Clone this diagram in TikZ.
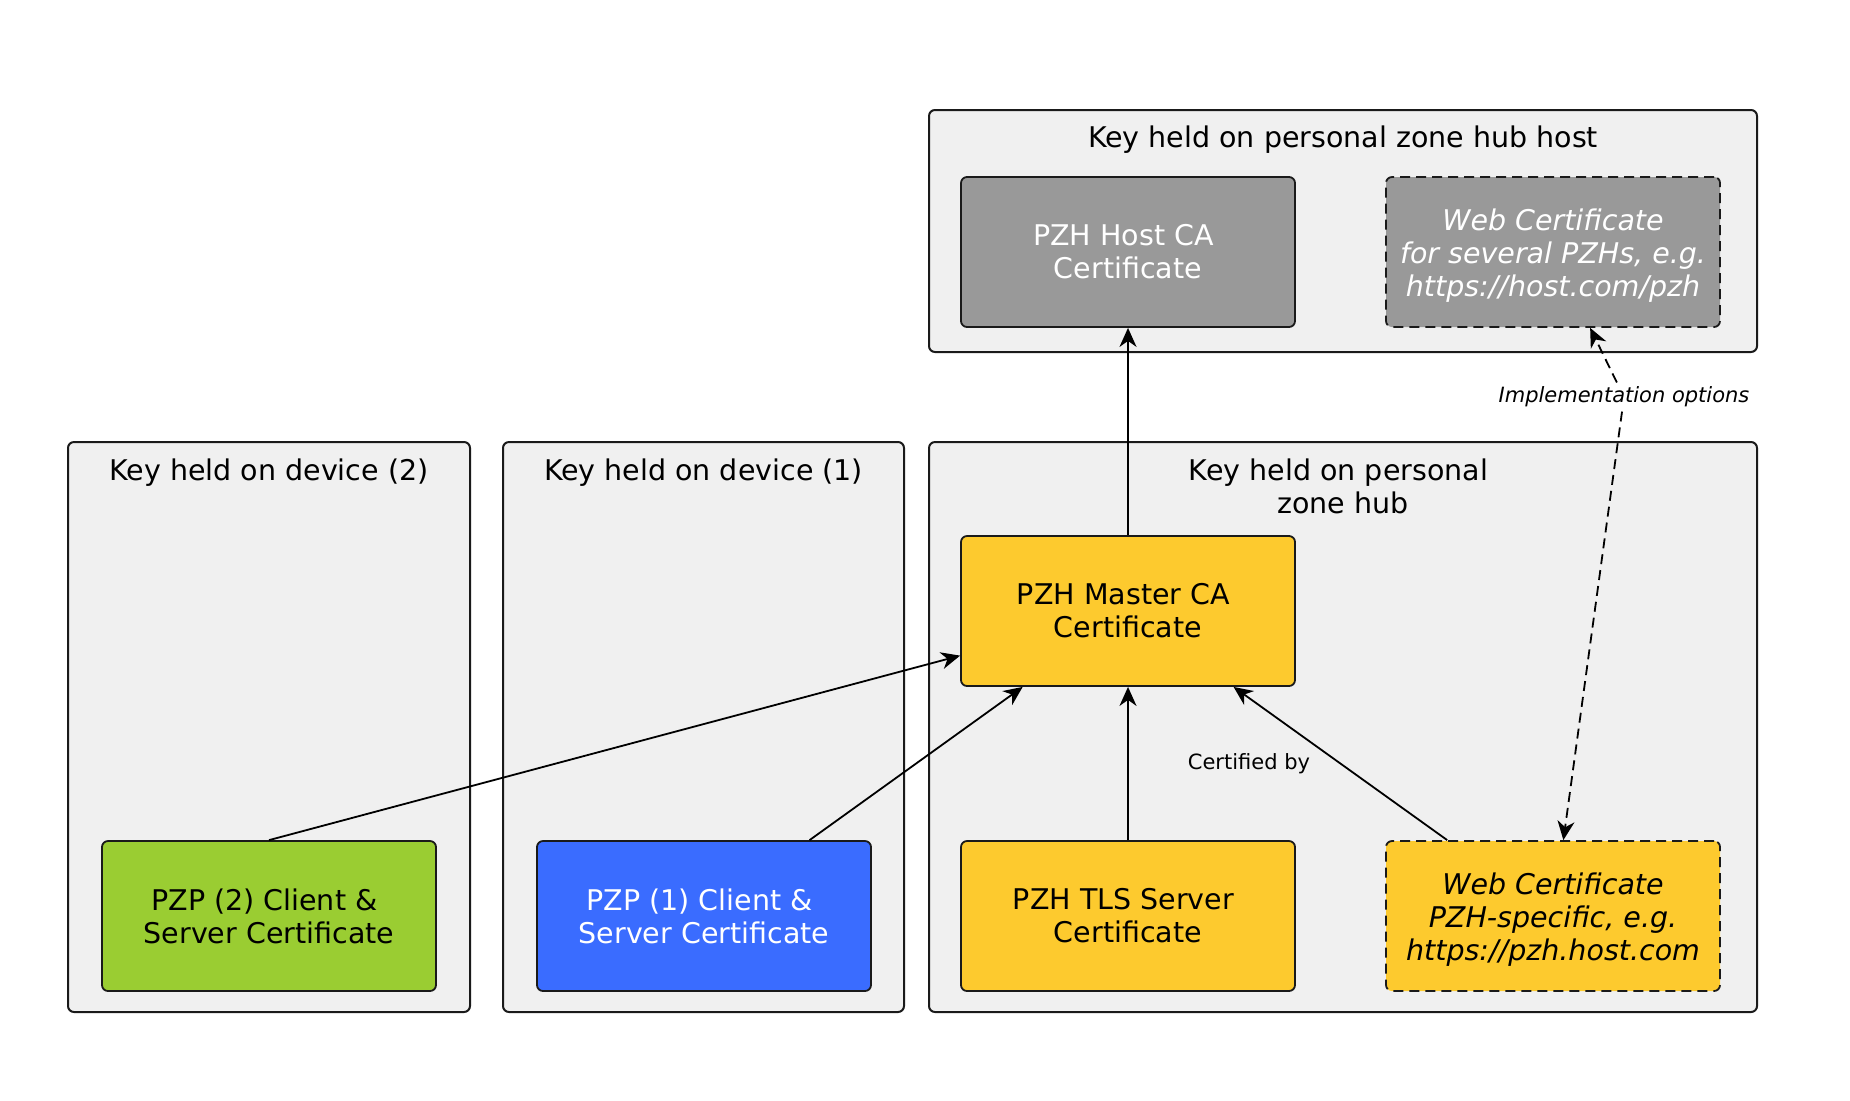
\documentclass[tikz,border=0pt]{standalone}
\usepackage{fontspec}
\setmainfont{DejaVu Sans}
\usetikzlibrary{arrows.meta}
\definecolor{contfill}{HTML}{F0F0F0}
\definecolor{greyfill}{HTML}{999999}
\definecolor{greenfill}{HTML}{9ACD32}
\definecolor{bluefill}{HTML}{3A6CFF}
\definecolor{yellowfill}{HTML}{FDCA2E}
\definecolor{edgecol}{HTML}{1A1A1A}
\newcommand\tsp{\kern0.318em}
\newcommand\lowstrut{\rule{0pt}{14.4pt}}
\tikzset{
  container/.style={draw=edgecol, line width=1pt, fill=contfill, rounded corners=3pt, inner sep=0pt},
  certbox/.style={draw=edgecol, line width=0.9pt, rounded corners=3pt, minimum width=167pt, minimum height=75pt, align=center, inner sep=0pt, font=\fontsize{14.25pt}{16.5pt}\selectfont},
  title/.style={font=\fontsize{14.25pt}{16.5pt}\selectfont, align=center, inner sep=0pt},
  small/.style={font=\fontsize{10.5pt}{12.5pt}\selectfont},
  arr/.style={draw=black, line width=0.9pt, -{Stealth[length=9.5pt, width=8.5pt, inset=3pt]}},
  dasharr/.style={arr, dash pattern=on 5pt off 3pt},
  dashedbox/.style={dash pattern=on 5pt off 3pt}
}
\begin{document}
\begin{tikzpicture}[x=0.5pt, y=-0.5pt]
\useasboundingbox[fill=white] (0,0) rectangle (1850,1100);

% containers
\node[container, minimum width=414pt, minimum height=121pt] (hostcont) at (1343,231) {};
\node[container, minimum width=201pt, minimum height=285pt] (dev2) at (269,727) {};
\node[container, minimum width=200.5pt, minimum height=285pt] (dev1) at (703.5,727) {};
\node[container, minimum width=414pt, minimum height=285pt] (hub) at (1343,727) {};

% container titles
\node[title, anchor=base] (thost) at (1343,147) {Key held on personal zone hub host};
\node[title, anchor=base] (tdev2) at (269,480) {Key held on device (2)};
\node[title, anchor=base] (tdev1) at (703.5,480) {Key held on device (1)};
\node[title, anchor=base] (thub1) at (1343,480) {Key held on personal\tsp};
\node[title, anchor=base] (thub2) at (1343,513) {zone hub};

% certificate boxes
\node[certbox, fill=greyfill, text=white] (hostca) at (1128,252) {PZH Host CA\tsp\\Certificate};
\node[certbox, dashedbox, fill=greyfill, text=white, font=\fontsize{14.25pt}{16.5pt}\selectfont\itshape] (webhost) at (1553,252) {\lowstrut Web Certificate\\for several PZHs, e.g.\\https://host.com/pzh};
\node[certbox, fill=yellowfill] (master) at (1128,611) {PZH Master CA\tsp\\Certificate};
\node[certbox, fill=yellowfill] (tls) at (1128,916) {PZH TLS Server\tsp\\Certificate};
\node[certbox, dashedbox, fill=yellowfill, font=\fontsize{14.25pt}{16.5pt}\selectfont\itshape] (webpzh) at (1553,916) {\lowstrut Web Certificate\\PZH-specific, e.g.\\https://pzh.host.com};
\node[certbox, fill=greenfill] (pzp2) at (269,916) {PZP (2) Client \&\tsp\\Server Certificate};
\node[certbox, fill=bluefill, text=white] (pzp1) at (704,916) {PZP (1) Client \&\tsp\\Server Certificate};

% labels
\node[small, inner sep=2pt] (certby) at (1249,764) {Certified by};
\node[small, inner sep=2pt, font=\fontsize{10.5pt}{12.5pt}\selectfont\itshape] (impl) at (1624,397) {Implementation options};

% connectors
\draw[arr] (master) -- (hostca);
\draw[arr] (pzp2.north) -- (master);
\draw[arr] (pzp1) -- (master);
\draw[arr] (tls) -- (master);
\draw[arr] (webpzh) -- (master);
\draw[dasharr] (impl) -- (webhost);
\draw[dasharr] (impl) -- (webpzh);
\end{tikzpicture}
\end{document}
